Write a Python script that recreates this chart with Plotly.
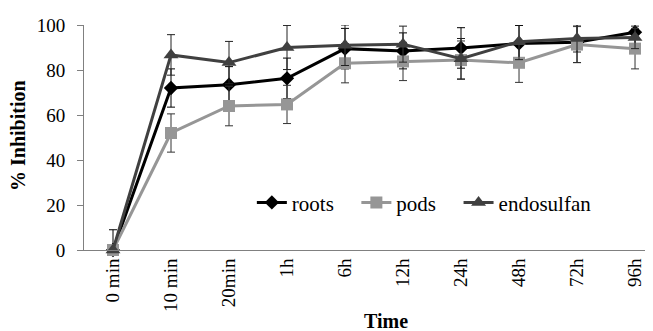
import plotly.graph_objects as go

categories = ["0 min", "10 min", "20min", "1h", "6h", "12h", "24h", "48h", "72h", "96h"]
series_names = ["roots", "pods", "endosulfan"]
roots = [0, 72, 73.5, 76.3, 89.5, 88.5, 89.8, 91.8, 92.3, 96.8]
roots_err = [9, 8.5, 8, 9, 9, 8, 9, 8, 9, 8]
pods = [0, 52, 64, 64.7, 83, 83.8, 84.4, 83.2, 91.3, 89.5]
pods_err = [0, 8.5, 8.8, 8.5, 8.7, 8.5, 8.5, 8.7, 8, 9]
endo = [0, 86.7, 83.3, 90, 91, 91.5, 85, 92.6, 94, 94.5]
endo_err = [0, 9, 9.4, 9.8, 9, 8, 9, 8, 6, 5]
y_ticks = [0, 20, 40, 60, 80, 100]

FONT = "Liberation Serif, Times New Roman, serif"
idx = list(range(len(categories)))
PAD = "\u00a0\u00a0\u00a0\u200a"

fig = go.Figure()

def add(name, y, err, color, symbol, size, ecolor):
    fig.add_trace(go.Scatter(
        x=idx, y=y, name=name, mode="lines+markers",
        line=dict(color=color, width=3),
        marker=dict(symbol=symbol, size=size, color=color),
        error_y=dict(type="data", array=err, arrayminus=[0 if v == 0 else e for v, e in zip(y, err)],
                     color=ecolor, thickness=1, width=4),
        cliponaxis=False,
    ))

add(series_names[0] + PAD, roots, roots_err, "#000000", "diamond", 11, "#000000")
add(series_names[1] + PAD, pods, pods_err, "#969696", "square", 12, "#333333")
add(series_names[2], endo, endo_err, "#404040", "triangle-up", 13, "#222222")

fig.update_layout(
    width=645, height=323,
    margin=dict(l=76, r=0, t=17, b=81),
    paper_bgcolor="white", plot_bgcolor="white",
    font=dict(family=FONT, size=19, color="#000000"),
    showlegend=True,
    legend=dict(orientation="h", x=0.295, y=0.21, xanchor="left", yanchor="middle",
                bgcolor="rgba(0,0,0,0)", font=dict(family=FONT, size=21)),
    xaxis=dict(
        range=[-0.5, 9.31], tickmode="array", tickvals=idx, ticktext=categories,
        tickangle=-90, showline=True, linecolor="#808080", linewidth=1,
        showgrid=False, zeroline=False, ticks="", automargin=False,
        tickfont=dict(family=FONT, size=19),
    ),
    yaxis=dict(
        range=[0, 100], tickmode="array", tickvals=y_ticks,
        showline=True, linecolor="#808080", linewidth=1, automargin=False,
        showgrid=False, zeroline=False, ticks="outside", ticklen=6, tickcolor="#808080",
        ticklabelstandoff=8,
        tickfont=dict(family=FONT, size=19),
    ),
    annotations=[
        dict(text="<b>Time</b>", xref="paper", yref="paper", x=(386 - 84) / 569, y=-(321 - 250) / 225,
             xanchor="center", yanchor="middle", showarrow=False, font=dict(family=FONT, size=20)),
        dict(text="<b>% Inhibition</b>", xref="paper", yref="paper", x=-(84 - 18) / 569, y=(250 - 136) / 225,
             xanchor="center", yanchor="middle", showarrow=False, textangle=-90, font=dict(family=FONT, size=20)),
    ],
)

fig.write_html("out.html")
